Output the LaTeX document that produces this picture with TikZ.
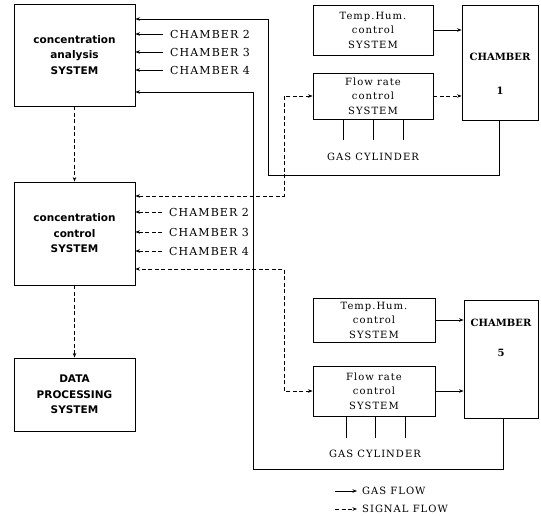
\documentclass[tikz,border=0pt]{standalone}
\usepackage{fontspec}
\setmainfont{DejaVu Serif}
\newfontfamily\boxfont[LetterSpace=10]{DejaVu Serif}
\newfontfamily\sysfont{DejaVu Sans}
\usetikzlibrary{arrows.meta}

\begin{document}
\begin{tikzpicture}[x=1pt,y=-1pt,
    >={Stealth[length=4.5pt,width=3.5pt]},
    box/.style={draw,line width=0.9pt,inner sep=0pt,align=center},
    leftbox/.style={box,minimum width=121pt,font=\sysfont\bfseries\fontsize{10.5}{15.5}\selectfont},
    rightbox/.style={box,font=\boxfont\fontsize{10}{14.5}\selectfont},
    chamber/.style={box,font=\bfseries\fontsize{10}{12}\selectfont},
    flow/.style={line width=0.7pt},
    gasflow/.style={flow,->},
    sigflow/.style={flow,->,dash pattern=on 4pt off 2.5pt},
    chlabel/.style={anchor=west,inner xsep=7pt,inner ysep=1pt,font=\boxfont\fontsize{11}{13}\selectfont},
    txt/.style={inner sep=1pt,font=\boxfont\fontsize{10}{12}\selectfont}
  ]
  \useasboundingbox (0,0) rectangle (541,516);

  \node[leftbox,minimum height=102pt] (ca) at (74.5,55) {concentration\\analysis\\SYSTEM};
  \node[leftbox,minimum height=103pt] (cc) at (74.5,233.5) {concentration\\control\\SYSTEM};
  \node[leftbox,minimum height=73pt] (dp) at (74.5,394.5) {DATA\\PROCESSING\\SYSTEM};

  \node[rightbox,minimum width=120pt,minimum height=50pt] (th1) at (373,30) {Temp.Hum.\\control\\SYSTEM};
  \node[rightbox,minimum width=120pt,minimum height=46pt] (fr1) at (373,96) {Flow rate\\control\\SYSTEM};
  \node[chamber,minimum width=76pt,minimum height=115pt] (ch1) at (500,62.5) {\rule{0pt}{30pt}CHAMBER\\[22pt]1};

  \node[rightbox,minimum width=122pt,minimum height=44pt] (th2) at (374,320) {Temp.Hum.\\control\\SYSTEM};
  \node[rightbox,minimum width=122pt,minimum height=50pt] (fr2) at (374,391) {Flow rate\\control\\SYSTEM};
  \node[chamber,minimum width=74pt,minimum height=118pt] (ch5) at (501,359) {CHAMBER\\[18pt]5\\[30pt]\mbox{}};

  \foreach \n/\y in {2/34,3/52,4/70} {
    \node[chlabel] (ca\n) at (163,\y) {CHAMBER \n};
    \draw[gasflow] (ca\n.west) -- (ca\n.west -| ca.east);
  }
  \foreach \n/\y in {2/212,3/232,4/251} {
    \node[chlabel] (cc\n) at (162,\y) {CHAMBER \n};
    \draw[sigflow] (cc\n.west) -- (cc\n.west -| cc.east);
  }

  \draw[sigflow] (ca) -- (cc);
  \draw[sigflow] (cc) -- (dp);

  \draw[gasflow] (th1) -- (th1 -| ch1.west);
  \draw[sigflow] (fr1) -- (fr1 -| ch1.west);
  \draw[gasflow] (th2) -- (th2 -| ch5.west);
  \draw[gasflow] (fr2) -- (fr2 -| ch5.west);

  \draw[gasflow] ([xshift=-1pt]ch1.south) |- (268,175) |- (ca.east |- 0,19);
  \draw[gasflow] ([xshift=2pt]ch5.south) |- (253,469) |- (ca.east |- 0,92);

  \draw[sigflow,<->] (fr1.west) -| (284,196) -- (cc.east |- 0,196);
  \draw[sigflow,<->] (fr2.west) -| (284,269) -- (cc.east |- 0,269);

  \foreach \dx in {-30,0,30}
    \draw[flow] ([xshift=\dx pt]fr1.south) -- ++(0,21);
  \node[txt] (gc1) at (373,157) {GAS CYLINDER};
  \foreach \dx in {-28,1,31}
    \draw[flow] ([xshift=\dx pt]fr2.south) -- ++(0,22);
  \node[txt] (gc2) at (375,454) {GAS CYLINDER};

  \node[txt,anchor=west,inner xsep=5pt] (lg1) at (357,491) {GAS FLOW};
  \node[txt,anchor=west,inner xsep=5pt] (lg2) at (357,509) {SIGNAL FLOW};
  \coordinate (lg1s) at (335,491);
  \coordinate (lg2s) at (335,509);
  \draw[gasflow] (lg1s) -- (lg1.west);
  \draw[sigflow] (lg2s) -- (lg2.west);
\end{tikzpicture}
\end{document}
